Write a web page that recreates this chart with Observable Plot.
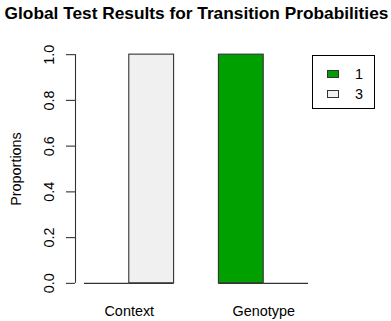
<!DOCTYPE html>
<html>
<head>
<meta charset="utf-8">
<script src="https://cdn.jsdelivr.net/npm/d3@7"></script>
<script src="https://cdn.jsdelivr.net/npm/@observablehq/plot@0.6"></script>
<style>
  html, body { margin: 0; padding: 0; background: #fff; }
  #wrap { position: relative; width: 391px; height: 321px; font-family: "Liberation Sans", Arial, Helvetica, sans-serif; }
  #legend { position: absolute; left: 312px; top: 55px; width: 61px; height: 52px; border: 1px solid #000; box-sizing: content-box; }
  .row { position: absolute; left: 14px; height: 20px; display: flex; align-items: center; font-size: 14.4px; color: #000; }
  .sw { width: 10px; height: 6px; border: 1px solid #333; margin-right: 16px; }
</style>
</head>
<body>
<div id="wrap"></div>
<script>
const title = "Global Test Results for Transition Probabilities";
const yLabel = "Proportions";
const groups = ["Context", "Genotype"];
const series = ["1", "3"];
// values[groupIndex][seriesIndex]
const values = [[0, 1], [1, 0]];
const seriesColors = ["#00A000", "#F0F0F0"];
const yTicks = [0, 0.2, 0.4, 0.6, 0.8, 1.0];

// R barplot(beside=TRUE) layout: bar width 1, gap of 1 between groups
const rows = [];
groups.forEach((g, gi) => series.forEach((s, si) => {
  const pos = 1 + gi * (series.length + 1) + si;
  rows.push({group: g, series: s, value: values[gi][si], x1: pos, x2: pos + 1});
}));
const groupCenters = groups.map((g, gi) => ({group: g, x: 1 + gi * (series.length + 1) + series.length / 2}));
const xmin = d3.min(rows, d => d.x1), xmax = d3.max(rows, d => d.x2);
const xpad = (xmax - xmin) * 0.04;
const ypad = (yTicks[yTicks.length - 1] - yTicks[0]) * 0.04;

const chart = Plot.plot({
  width: 391,
  height: 321,
  marginLeft: 75,
  marginRight: 74,
  marginTop: 45,
  marginBottom: 29,
  style: {fontFamily: "'Liberation Sans', Arial, Helvetica, sans-serif", fontSize: "14.4px", background: "#fff"},
  x: {type: "linear", domain: [xmin - xpad, xmax + xpad], axis: null},
  y: {type: "linear", domain: [yTicks[0] - ypad, yTicks[yTicks.length - 1] + ypad], axis: null},
  color: {domain: series, range: seriesColors},
  marks: [
    Plot.rect(rows.filter(d => d.value !== 0), {x1: "x1", x2: "x2", y1: 0, y2: "value", fill: "series", stroke: "#333", strokeWidth: 1.1}),
    Plot.ruleY(rows, {y: 0, x1: "x1", x2: "x2", stroke: "#333", strokeWidth: 1.1}),
    Plot.ruleX([xmin - xpad], {y1: yTicks[0], y2: yTicks[yTicks.length - 1], stroke: "#333", strokeWidth: 1.1}),
    Plot.axisY({ticks: yTicks, tickSize: 9, tickFormat: () => "", label: null, stroke: "#333", strokeWidth: 1.1}),
    Plot.text(yTicks, {y: d => d, frameAnchor: "left", dx: -26, rotate: -90, textAnchor: "middle", lineAnchor: "middle", text: d => d.toFixed(1), fill: "#000", fontSize: 14.4}),
    Plot.text([yLabel], {y: (yTicks[0] + yTicks[yTicks.length - 1]) / 2, frameAnchor: "left", dx: -59, rotate: -90, textAnchor: "middle", lineAnchor: "middle", text: d => d, fill: "#000", fontSize: 14.4}),
    Plot.text(groupCenters, {x: "x", frameAnchor: "bottom", dy: 19, lineAnchor: "middle", text: "group", fill: "#000", fontSize: 14.4}),
    Plot.text([title], {frameAnchor: "top", dy: -32, lineAnchor: "middle", text: d => d, fill: "#000", fontSize: 17.3, fontWeight: "bold"})
  ]
});
const wrap = document.getElementById("wrap");
wrap.appendChild(chart);

const legend = document.createElement("div");
legend.id = "legend";
series.forEach((s, i) => {
  const row = document.createElement("div");
  row.className = "row";
  row.style.top = (8 + i * 19.5) + "px";
  const sw = document.createElement("div");
  sw.className = "sw";
  sw.style.background = seriesColors[i];
  row.appendChild(sw);
  const lab = document.createElement("span");
  lab.textContent = s;
  row.appendChild(lab);
  legend.appendChild(row);
});
wrap.appendChild(legend);
</script>
</body>
</html>
